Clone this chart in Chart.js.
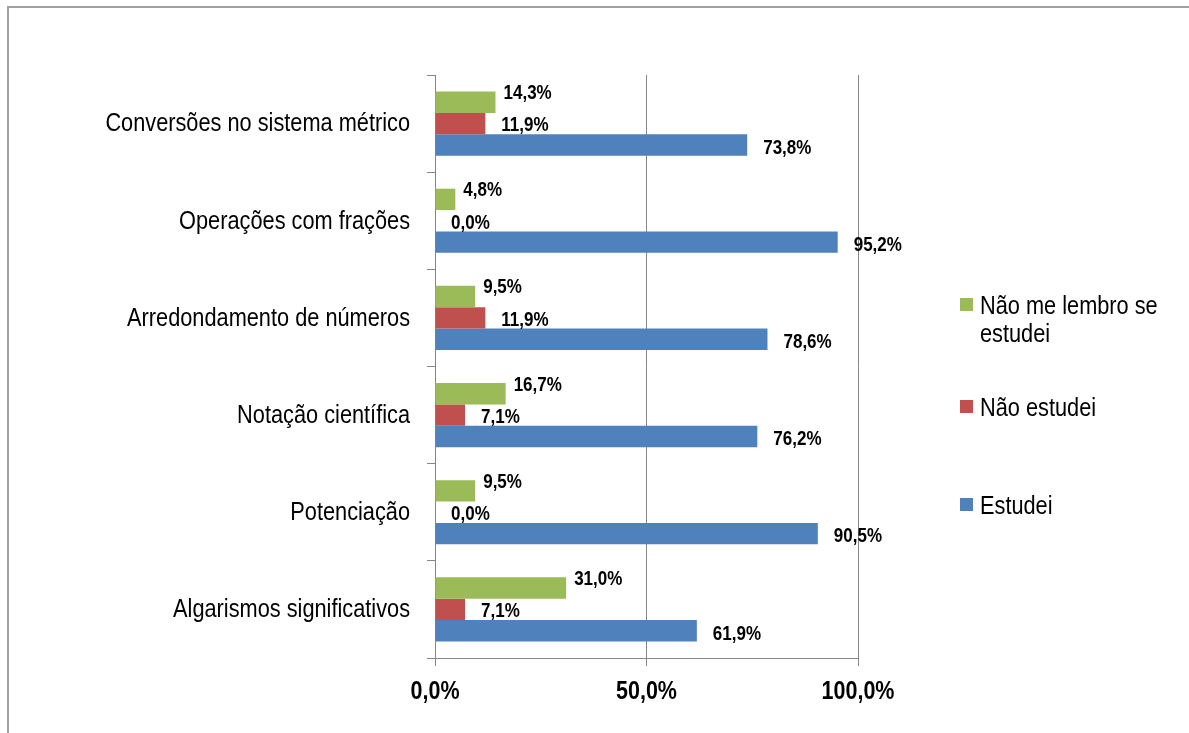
<!DOCTYPE html>
<html lang="pt">
<head>
<meta charset="utf-8">
<title>Conteúdos estudados</title>
<script src="https://cdn.jsdelivr.net/npm/chart.js@4.4.0/dist/chart.umd.min.js"></script>
<style>
  html, body { margin: 0; padding: 0; background: #fff; overflow: hidden; }
  #wrap { position: relative; width: 1189px; height: 733px; }
  #frame { position: absolute; left: 7px; top: 6px; width: 1300px; height: 800px;
           border-left: 2px solid #a0a0a0; border-top: 2px solid #a0a0a0; }
  #legenda { position: absolute; left: 960px; top: 0; width: 229px;
             font-family: "Liberation Sans", Arial, sans-serif;
             font-size: 25px; line-height: 28px; color: #000; }
  .item { position: absolute; left: 0; white-space: nowrap; }
  .box { position: absolute; left: 0; top: 7px; width: 13px; height: 13px; }
  .txt { position: absolute; left: 20px; top: 0; transform: scaleX(0.87); transform-origin: 0 0; }
</style>
</head>
<body>
<div id="wrap">
  <div id="frame"></div>
  <canvas id="grafico" width="1189" height="733"></canvas>
  <div id="legenda"></div>
</div>
<script>
// categorias (de cima para baixo)
var categorias = [
    'Conversões no sistema métrico',
    'Operações com frações',
    'Arredondamento de números',
    'Notação científica',
    'Potenciação',
    'Algarismos significativos'
];
// séries em %
var naoLembro = [14.3, 4.8, 9.5, 16.7, 9.5, 31.0];
var naoEstudei = [11.9, 0.0, 11.9, 7.1, 0.0, 7.1];
var estudei = [73.8, 95.2, 78.6, 76.2, 90.5, 61.9];
// eixo x
var ticksX = [0, 50, 100];

var nomes = ['Não me lembro se estudei', 'Não estudei', 'Estudei'];
var cores = ['#9BBB59', '#C0504D', '#4F81BD'];

function fmt(v){
    return v.toFixed(1).replace('.', ',') + '%';
}

var fonte = '"Liberation Sans", Arial, sans-serif';
var cinza = '#868686';

// texto estreitado na horizontal (imita Arial Narrow)
function textoEstreito(ctx, txt, x, y, align, sx){
    ctx.save();
    ctx.translate(x, y);
    ctx.scale(sx, 1);
    ctx.textAlign = align;
    ctx.fillText(txt, 0, 0);
    ctx.restore();
}

// rótulos dos eixos e valores das barras
var textos = {
    id: 'textos',
    afterDraw: function(chart){
        var ctx = chart.ctx;
        var sx = chart.scales.x, sy = chart.scales.y;
        ctx.save();
        ctx.fillStyle = '#000';
        ctx.textBaseline = 'middle';

        // categorias
        ctx.font = '25px ' + fonte;
        categorias.forEach(function(c, i){
            textoEstreito(ctx, c, sy.right - 25, sy.getPixelForValue(i) + 1, 'right', 0.87);
        });

        // eixo x
        ctx.font = 'bold 25px ' + fonte;
        ticksX.forEach(function(v){
            textoEstreito(ctx, fmt(v), sx.getPixelForValue(v), sx.top + 34, 'center', 0.86);
        });

        // valores
        ctx.font = 'bold 21px ' + fonte;
        var gap = [8, 16, 16];
        var dy = [-9, 2, 3];
        chart.data.datasets.forEach(function(ds, i){
            var meta = chart.getDatasetMeta(i);
            meta.data.forEach(function(bar, j){
                textoEstreito(ctx, fmt(ds.data[j]), bar.x + gap[i], bar.y + dy[i], 'left', 0.81);
            });
        });
        ctx.restore();
    }
};

var ctx = document.getElementById('grafico').getContext('2d');
var grafico = new Chart(ctx, {
    type: 'bar',
    data: {
        labels: categorias,
        datasets: [
            { label: nomes[0], data: naoLembro, backgroundColor: cores[0] },
            { label: nomes[1], data: naoEstudei, backgroundColor: cores[1] },
            { label: nomes[2], data: estudei, backgroundColor: cores[2] }
        ]
    },
    options: {
        indexAxis: 'y',
        responsive: false,
        animation: false,
        layout: { padding: { left: 0, right: 331, top: 75, bottom: 0 } },
        datasets: { bar: { categoryPercentage: 0.66, barPercentage: 1.0 } },
        plugins: {
            legend: { display: false },
            tooltip: { enabled: false }
        },
        scales: {
            x: {
                min: 0,
                max: 100,
                afterBuildTicks: function(s){
                    s.ticks = ticksX.map(function(v){ return { value: v }; });
                },
                afterFit: function(s){ s.height = 75; },
                grid: { color: cinza, lineWidth: 1, tickLength: 8, drawOnChartArea: true },
                border: { display: true, color: cinza, width: 1 },
                ticks: { display: false }
            },
            y: {
                afterFit: function(s){ s.width = 435; },
                grid: { color: cinza, lineWidth: 1, tickLength: 8, drawOnChartArea: false, offset: true },
                border: { display: true, color: cinza, width: 1 },
                ticks: { display: false }
            }
        }
    },
    plugins: [textos]
});

// legenda em HTML, à direita
var legenda = document.getElementById('legenda');
var topos = [291, 393, 491];
grafico.data.datasets.forEach(function(ds, i){
    var item = document.createElement('div');
    item.className = 'item';
    item.style.top = topos[i] + 'px';
    var box = document.createElement('span');
    box.className = 'box';
    box.style.background = ds.backgroundColor;
    var txt = document.createElement('span');
    txt.className = 'txt';
    txt.innerHTML = i === 0 ? 'Não me lembro se<br>estudei' : ds.label;
    item.appendChild(box);
    item.appendChild(txt);
    legenda.appendChild(item);
});
</script>
</body>
</html>
